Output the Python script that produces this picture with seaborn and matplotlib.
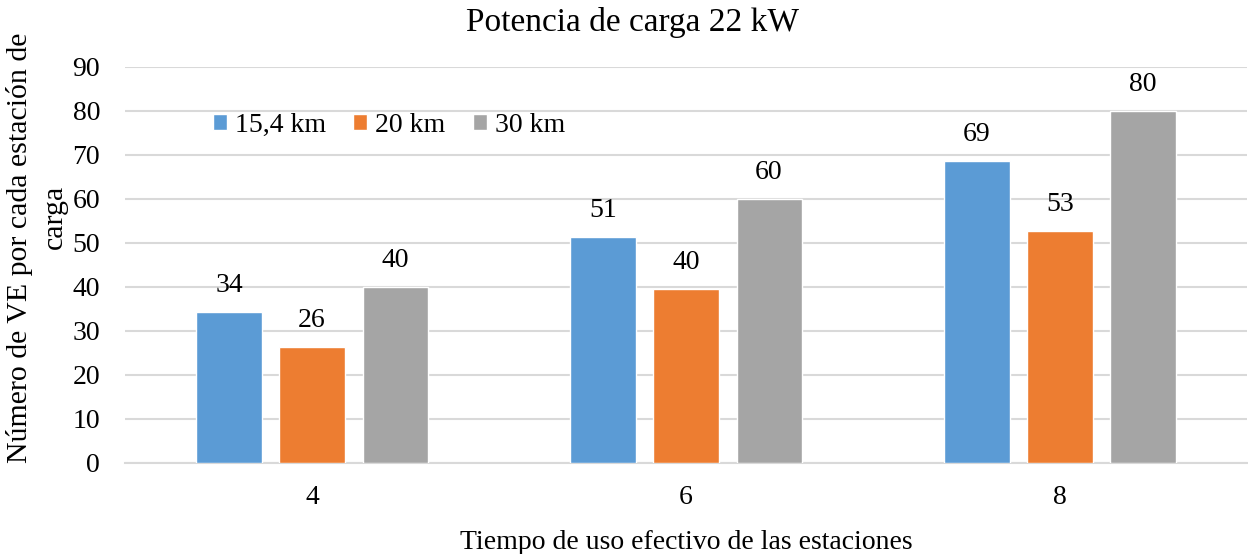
import pandas as pd
import seaborn as sns
import matplotlib.pyplot as plt

# Chart data
tiempos = ['4', '6', '8']
series = ['15,4 km', '20 km', '30 km']
valores_15_4 = [34.3, 51.4, 68.6]
valores_20 = [26.4, 39.6, 52.8]
valores_30 = [40.0, 60.0, 80.0]
colores = ['#5B9BD5', '#ED7D31', '#A5A5A5']

data = pd.DataFrame({
    'tiempo': tiempos * 3,
    'serie': [series[0]] * 3 + [series[1]] * 3 + [series[2]] * 3,
    'valor': valores_15_4 + valores_20 + valores_30,
})

sns.set_style('white')
plt.rcParams['font.family'] = ['Liberation Serif', 'DejaVu Serif']
plt.rcParams['text.color'] = 'black'
plt.rcParams['xtick.color'] = 'black'
plt.rcParams['ytick.color'] = 'black'
plt.rcParams['axes.labelcolor'] = 'black'

fig = plt.figure(figsize=(12.48, 5.54), dpi=100)
ax = fig.add_axes([0.1002, 0.1643, 0.899, 0.7148])

sns.barplot(data=data, x='tiempo', y='valor', hue='serie', order=tiempos,
            hue_order=series, palette=colores, width=0.666, gap=0.216,
            saturation=1, ax=ax, errorbar=None, zorder=3)

# Value labels
for cont in ax.containers:
    ax.bar_label(cont, labels=[f'{v:.0f}' for v in cont.datavalues],
                 padding=10, fontsize=20, color='black')

ax.set_ylim(0, 90)
ax.set_yticks(range(0, 91, 10))
ax.set_xlim(-0.5, 2.5)
ax.yaxis.grid(True, color='#d9d9d9', linewidth=1.5, zorder=0)
ax.set_axisbelow(True)
for s in ['top', 'right', 'left']:
    ax.spines[s].set_visible(False)
ax.spines['bottom'].set_color('#d9d9d9')
ax.spines['bottom'].set_linewidth(1.5)
ax.tick_params(axis='both', length=0, labelsize=20)
ax.tick_params(axis='y', pad=18)
ax.tick_params(axis='x', pad=16)

# title centred on the figure, like the original
fig.text(633 / 1248, 1 - 22 / 554, 'Potencia de carga 22 kW',
         ha='center', va='center', fontsize=24)
ax.set_xlabel('Tiempo de uso efectivo de las estaciones', fontsize=20, labelpad=14)
ax.set_ylabel('')

# y axis title (two lines, as in the original)
fig.text(20 / 1248, 1 - 248 / 554, 'Número de VE por cada estación de',
         rotation=90, ha='center', va='center', fontsize=21.5)
fig.text(55 / 1248, 1 - 217 / 554, 'carga',
         rotation=90, ha='center', va='center', fontsize=21.5)

ax.legend(loc='center left', bbox_to_anchor=(0.0684, 0.853), ncol=3, frameon=False,
          fontsize=20, handlelength=0.5, handleheight=0.5, handletextpad=0.28,
          columnspacing=1.0, borderaxespad=0)

plt.savefig('out.png', dpi=100)
